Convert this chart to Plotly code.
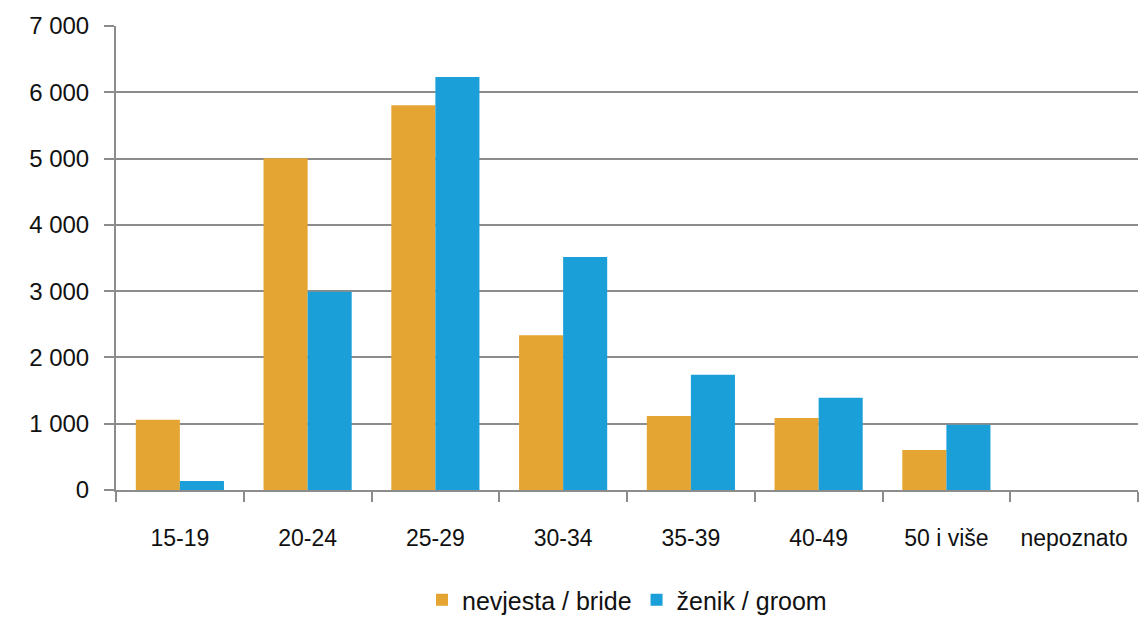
import plotly.graph_objects as go

# age groups
categories = ["15-19", "20-24", "25-29", "30-34", "35-39", "40-49", "50 i više", "nepoznato"]
bride = [1058, 5005, 5805, 2335, 1115, 1085, 605, 0]
groom = [135, 2990, 6230, 3515, 1740, 1390, 985, 0]
y_ticks = [0, 1000, 2000, 3000, 4000, 5000, 6000, 7000]

FONT = "Liberation Sans, Arial, sans-serif"
GRAY = "#8c8c8c"

fig = go.Figure()
fig.add_trace(go.Bar(x=categories, y=bride, name="nevjesta / bride",
                     marker=dict(color="#E5A533", line=dict(width=0))))
fig.add_trace(go.Bar(x=categories, y=groom, name="ženik / groom",
                     marker=dict(color="#1B9FD9", line=dict(width=0))))

fig.update_layout(
    width=1141, height=618,
    margin=dict(l=116, r=3, t=26, b=128, autoexpand=False),
    paper_bgcolor="white", plot_bgcolor="white",
    barmode="group", bargap=0.31, bargroupgap=0,
    separators=", ",
    font=dict(family=FONT, size=24, color="#111111"),
    legend=dict(orientation="h", x=0.5, xanchor="center",
                yref="container", y=18 / 618, yanchor="middle",
                font=dict(size=25), itemsizing="constant", itemwidth=30),
    showlegend=True,
)
fig.update_xaxes(
    showline=True, linecolor=GRAY, linewidth=2,
    ticks="outside", tickson="boundaries", ticklen=10, tickcolor=GRAY, tickwidth=2,
    showgrid=False, ticklabelstandoff=26, tickangle=0, automargin=False,
    tickfont=dict(size=23),
)
fig.update_yaxes(
    range=[0, 7000], tickvals=y_ticks, tickformat=",d",
    showline=True, linecolor=GRAY, linewidth=2,
    ticks="outside", ticklen=10, tickcolor=GRAY, tickwidth=2,
    showgrid=True, gridcolor=GRAY, gridwidth=2,
    zeroline=False, ticklabelstandoff=10, automargin=False,
)

# drop the browser's default page margin so the figure sits at 0,0
fig.write_html("out.html", config={"displayModeBar": False},
               post_script="document.body.style.margin='0';")
